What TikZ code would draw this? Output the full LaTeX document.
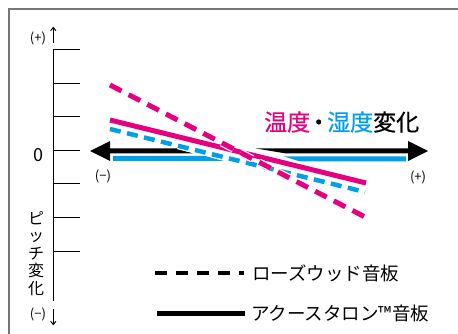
\documentclass[tikz,border=0pt]{standalone}
\usepackage{fontspec}
\setmainfont{Noto Sans CJK JP}
\newfontfamily\titlefont{Noto Sans CJK JP}[FakeBold=0.6]
\usetikzlibrary{arrows.meta}
\definecolor{mg}{HTML}{E4007F}
\definecolor{cy}{HTML}{00A0E9}
\definecolor{framegray}{HTML}{777777}
\tikzset{
  tick/.style={line width=1pt, black},
  small/.style={font=\fontsize{13}{13}\selectfont, inner sep=0pt},
  halo/.style={white, line width=#1},
  legtext/.style={font=\fontsize{18.5}{18.5}\selectfont, anchor=west, inner sep=0pt},
}
\begin{document}
\begin{tikzpicture}[x=1pt,y=-1pt]
\useasboundingbox (0,0) rectangle (458,334);
% frame
\draw[framegray, line width=2pt] (9,334) -- (9,9.5) -- (458,9.5);
% axis
\coordinate (axtop) at (53.3,50);
\coordinate (axbot) at (53.3,301);
\draw[line width=1.2pt] (axtop) -- (axbot);
\foreach \yy in {50,84,117,151,184,217,251}
  \draw[tick] (53.3,\yy) -- (80,\yy);
\draw[line width=1pt, -{To[length=4pt,width=6pt]}] (53.3,43) -- (53.3,27);
\draw[line width=1pt, -{To[length=4pt,width=6pt]}] (53.3,309) -- (53.3,325);
\node[small] (pp) at (38,38) {(+)};
\node[small] (pm) at (38,314) {(−)};
\node[font=\fontsize{18}{18}\selectfont, anchor=base, inner sep=0pt] (zero) at (38,161.5) {0};
\node[font=\fontsize{16}{17.6}\selectfont, align=center, anchor=north, inner sep=0pt] (ylab) at (36,211) {ピ\\ッ\\チ\\変\\化};
% black double arrow (tapered towards the middle)
\fill[black] (90,151) -- (110,141) -- (110,148.5) -- (177,148.5) -- (193,153.5) -- (110,153.5) -- (110,161) -- cycle;
\fill[black] (428,151) -- (408,141) -- (408,148.5) -- (256,148.5) -- (286,153.5) -- (408,153.5) -- (408,161) -- cycle;
% blue solid (acoustalon, humidity)
\fill[cy] (113,156) -- (205,156) -- (224,161) -- (113,161) -- cycle;
\fill[cy] (284,156.5) -- (406,156.5) -- (406,161.5) -- (300,161.5) -- cycle;
% magenta solid (acoustalon, temperature)
\coordinate (ms1) at (110,120); \coordinate (ms2) at (366,183);
\draw[halo=7pt] (ms1) -- (ms2);
\draw[mg, line width=5pt] (ms1) -- (ms2);
% blue dashed (rosewood, humidity)
\coordinate (bd1) at (110,129); \coordinate (bd2) at (365,192);
\draw[halo=7pt, dash pattern=on 11pt off 6.5pt] (bd1) -- (bd2);
\draw[cy, line width=4.5pt, dash pattern=on 11pt off 6.5pt] (bd1) -- (bd2);
% magenta dashed (rosewood, temperature)
\coordinate (md1) at (110,85); \coordinate (md2) at (365,217);
\draw[halo=7.5pt, dash pattern=on 13pt off 8pt] (md1) -- (md2);
\draw[mg, line width=5pt, dash pattern=on 13pt off 8pt] (md1) -- (md2);
% labels on the horizontal axis
\node[small] (hm) at (103,176) {(−)};
\node[small] (hp) at (418,177) {(+)};
\node[font=\fontsize{23}{23}\selectfont\titlefont, anchor=west, inner sep=0pt] (title) at (264,122)
  {\textcolor{mg}{温度}\kern-3pt・\kern-3pt\textcolor{cy}{湿度}変化};
% legend
\coordinate (l1a) at (155,273); \coordinate (l1b) at (243.5,273);
\draw[line width=4pt, dash pattern=on 11.5pt off 9.5pt] (l1a) -- (l1b);
\node[legtext] (leg1) at (252,273) {ローズウッド音板};
\coordinate (l2a) at (157,313.5); \coordinate (l2b) at (245,313.5);
\draw[line width=5pt] (l2a) -- (l2b);
\node[legtext] (leg2) at (251,313.5) {アクースタロン™音板};
\end{tikzpicture}
\end{document}
